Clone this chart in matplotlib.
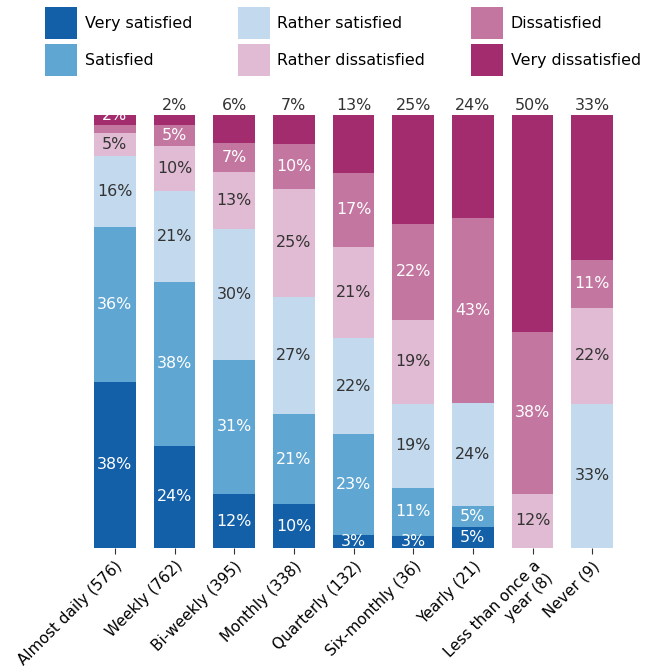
import numpy as np
import matplotlib
matplotlib.use('Agg')
import matplotlib.pyplot as plt

# Survey frequency groups
categories = ['Almost daily (576)', 'Weekly (762)', 'Bi-weekly (395)', 'Monthly (338)',
              'Quarterly (132)', 'Six-monthly (36)', 'Yearly (21)',
              'Less than once a\nyear (8)', 'Never (9)']

# Share of answers per group (%)
very_satisfied = [38.4, 23.6, 12.4, 10.1, 3.0, 2.8, 4.8, 0, 0]
satisfied = [35.8, 37.9, 31.1, 20.8, 23.4, 11.1, 4.8, 0, 0]
rather_satisfied = [16.4, 21.0, 30.2, 27.0, 22.0, 19.4, 23.8, 0, 33.3]
rather_dissatisfied = [5.2, 10.4, 13.1, 25.1, 21.2, 19.4, 0, 12.5, 22.2]
dissatisfied = [1.8, 4.9, 6.8, 10.2, 17.1, 22.2, 42.8, 37.5, 11.1]
very_dissatisfied = [2.4, 2.2, 6.4, 6.8, 13.3, 25.1, 23.8, 50.0, 33.4]

series = [
    ('Very satisfied', very_satisfied, '#1360a8', 'white'),
    ('Satisfied', satisfied, '#5fa6d3', 'white'),
    ('Rather satisfied', rather_satisfied, '#c3daee', '#333333'),
    ('Rather dissatisfied', rather_dissatisfied, '#e1bbd3', '#333333'),
    ('Dissatisfied', dissatisfied, '#c376a0', 'white'),
    ('Very dissatisfied', very_dissatisfied, '#a22c6e', 'white'),
]

FS = 11.4

fig = plt.figure(figsize=(6.59, 6.68), dpi=100)
ax = fig.add_axes([85 / 659, 1 - 548 / 668, 537 / 659, 433 / 668])

x = np.arange(len(categories))
bottom = np.zeros(len(categories))
handles = []
for k, (name, vals, color, tcolor) in enumerate(series):
    vals = np.array(vals, dtype=float)
    bars = ax.bar(x, vals, 0.7, bottom=bottom, color=color, label=name)
    handles.append(bars)
    for i, v in enumerate(vals):
        if v <= 0:
            continue
        mid = bottom[i] + v / 2
        if name == 'Very dissatisfied':
            if i == 0:
                # this one sits on the bar top and gets cut by the axes
                t = ax.text(x[i], bottom[i] + v, f'{v:.0f}%', ha='center', va='center',
                            color=tcolor, fontsize=FS)
                t.set_clip_on(True)
                t.set_clip_box(ax.bbox)
            else:
                ax.annotate(f'{v:.0f}%', (x[i], 100), xytext=(0, 1.5),
                            textcoords='offset points', ha='center', va='bottom',
                            color='#333333', fontsize=FS, annotation_clip=False)
        elif v >= 2.5:
            ax.text(x[i], mid, f'{v:.0f}%', ha='center', va='center',
                    color=tcolor, fontsize=FS)
    bottom += vals

ax.set_xlim(-0.5, len(categories) - 0.5)
ax.set_ylim(0, 100)
ax.set_xticks(x)
ax.set_xticklabels(categories, rotation=45, ha='right', rotation_mode='anchor',
                   fontsize=11)
ax.tick_params(axis='x', length=4, color='#333333')
ax.set_yticks([])
for s in ax.spines.values():
    s.set_visible(False)

fig.legend(handles=handles, loc='upper left', bbox_to_anchor=(45 / 659, 1 - 7 / 668),
           ncol=3, frameon=False, fontsize=FS, handlelength=2.0, handleheight=2.75,
           handletextpad=0.5, columnspacing=2.9, labelspacing=0.3,
           borderpad=0, borderaxespad=0)

plt.savefig('out.png', dpi=100)
